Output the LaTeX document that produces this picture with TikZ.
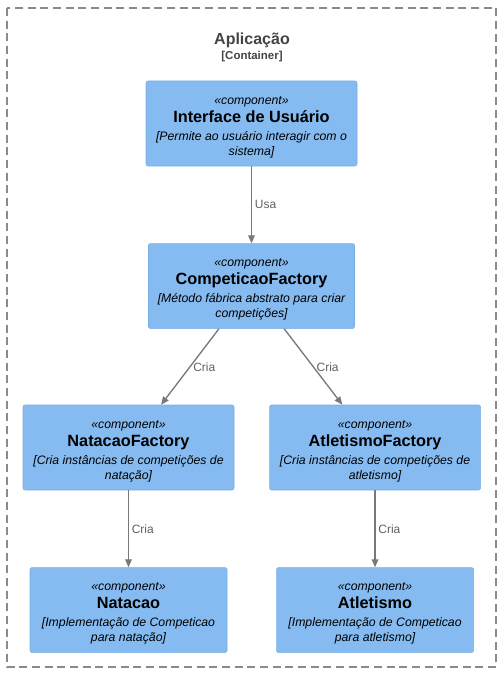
\documentclass[tikz,border=0pt]{standalone}
\usepackage{fontspec}
\setmainfont{Liberation Sans}
\usetikzlibrary{arrows.meta,positioning}
\definecolor{compblue}{HTML}{85BBF0}
\definecolor{compline}{HTML}{7AAEE3}
\definecolor{relgray}{HTML}{787878}
\definecolor{boundgray}{HTML}{8A8A8A}
\definecolor{titlegray}{HTML}{444444}
\newcommand{\stereo}{{\rule{0pt}{11pt}\fontsize{9.2}{11.25}\selectfont\itshape «component»}}
\newcommand{\compname}[1]{{\fontsize{12.2}{11.25}\selectfont\bfseries #1}}
\newcommand{\compdesc}[1]{{\fontsize{9.2}{11.25}\selectfont\itshape #1}}
\begin{document}
\begin{tikzpicture}[x=0.75pt, y=-0.75pt,
  comp/.style={draw=compline, fill=compblue, rounded corners=1.5pt, minimum height=63.75pt, align=center, inner sep=0pt, font=\fontsize{9.2}{11.25}\selectfont},
  rel/.style={draw=relgray, line width=1pt, -{Triangle[length=6pt,width=5pt]}},
  rellabel/.style={font=\fontsize{9}{11}\selectfont, text=titlegray!85, inner sep=2pt}]
  \useasboundingbox (0,0) rectangle (503,674);
  \draw[boundgray, line width=1.5pt, dash pattern=on 6pt off 3.5pt] (7,8) rectangle (496,667);
  \node[font=\fontsize{12}{14}\selectfont\bfseries, text=titlegray] (title) at (252,40) {Aplicação};
  \node[font=\fontsize{8.6}{10}\selectfont\bfseries, text=titlegray] (kind) at (252,57) {[Container]};

  \node[comp, minimum width=158.25pt] (ui) at (251.5,123.5)
    {\stereo\\[2.25pt]\compname{Interface de Usuário}\\[2.25pt]\compdesc{[Permite ao usuário interagir com o}\\\compdesc{sistema]}};
  \node[comp, minimum width=154.5pt, below=57.75pt of ui] (cf)
    {\stereo\\[2.25pt]\compname{CompeticaoFactory}\\[2.25pt]\compdesc{[Método fábrica abstrato para criar}\\\compdesc{competições]}};
  \node[comp, minimum width=158.25pt] (nf) at (128.5,447.5)
    {\stereo\\[2.25pt]\compname{NatacaoFactory}\\[2.25pt]\compdesc{[Cria instâncias de competições de}\\\compdesc{natação]}};
  \node[comp, minimum width=158.25pt, right=26.25pt of nf] (af)
    {\stereo\\[2.25pt]\compname{AtletismoFactory}\\[2.25pt]\compdesc{[Cria instâncias de competições de}\\\compdesc{atletismo]}};
  \node[comp, minimum width=147.75pt, below=57.75pt of nf] (nat)
    {\stereo\\[2.25pt]\compname{Natacao}\\[2.25pt]\compdesc{[Implementação de Competicao}\\\compdesc{para natação]}};
  \node[comp, minimum width=147.75pt, below=57.75pt of af] (atl)
    {\stereo\\[2.25pt]\compname{Atletismo}\\[2.25pt]\compdesc{[Implementação de Competicao}\\\compdesc{para atletismo]}};

  \draw[rel] (ui) -- node[rellabel, right] {Usa} (cf);
  \draw[rel] (cf) -- node[rellabel, right] {Cria} (nf);
  \draw[rel] (cf) -- node[rellabel, right] {Cria} (af);
  \draw[rel] (nf) -- node[rellabel, right] {Cria} (nat);
  \draw[rel] (af) -- node[rellabel, right] {Cria} (atl);
\end{tikzpicture}
\end{document}
